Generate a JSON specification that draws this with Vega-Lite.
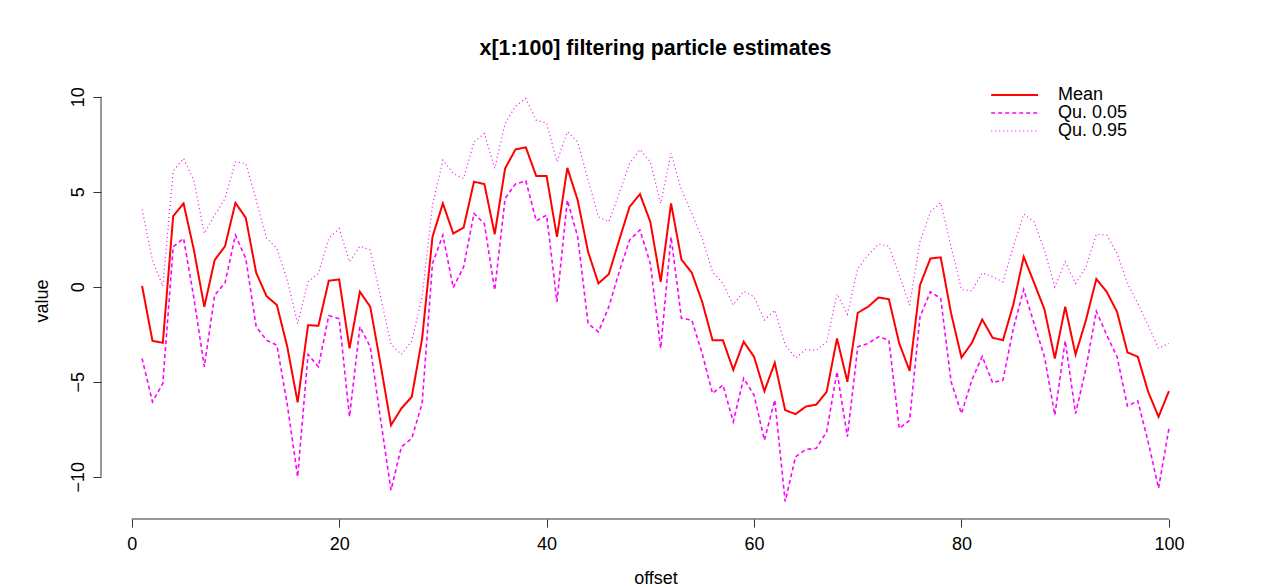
{
"$schema": "https://vega.github.io/schema/vega-lite/v6.json",
"width": 1109, "height": 437,
"autosize": "none",
"padding": {"left": 101, "top": 82, "right": 60, "bottom": 66},
"background": "white",
"config": {"view": {"stroke": null}, "font": "Liberation Sans"},
"title": {"text": "x[1:100] filtering particle estimates", "fontSize": 21.4, "fontWeight": "bold", "font": "Liberation Sans", "color": "#000", "anchor": "middle", "frame": "group", "baseline": "alphabetic", "offset": 6},
"layer": [
{
"data": {"values": [
{"offset":1,"m":0.05,"lo":-3.77,"hi":4.07},
{"offset":2,"m":-2.84,"lo":-6.05,"hi":1.40},
{"offset":3,"m":-2.95,"lo":-5.09,"hi":0.04},
{"offset":4,"m":3.72,"lo":2.11,"hi":6.09},
{"offset":5,"m":4.39,"lo":2.55,"hi":6.76},
{"offset":6,"m":1.93,"lo":-0.6,"hi":5.58},
{"offset":7,"m":-1.05,"lo":-4.21,"hi":2.81},
{"offset":8,"m":1.41,"lo":-0.44,"hi":3.77},
{"offset":9,"m":2.14,"lo":0.21,"hi":4.65},
{"offset":10,"m":4.42,"lo":2.72,"hi":6.58},
{"offset":11,"m":3.63,"lo":1.49,"hi":6.49},
{"offset":12,"m":0.74,"lo":-2.10,"hi":4.56},
{"offset":13,"m":-0.49,"lo":-2.81,"hi":2.55},
{"offset":14,"m":-0.96,"lo":-3.07,"hi":2.02},
{"offset":15,"m":-3.16,"lo":-6.2,"hi":0.35},
{"offset":16,"m":-6.08,"lo":-10.0,"hi":-1.93},
{"offset":17,"m":-2.02,"lo":-3.56,"hi":0.26},
{"offset":18,"m":-2.05,"lo":-4.21,"hi":0.70},
{"offset":19,"m":0.32,"lo":-1.51,"hi":2.55},
{"offset":20,"m":0.39,"lo":-1.68,"hi":3.07},
{"offset":21,"m":-3.24,"lo":-6.84,"hi":1.32},
{"offset":22,"m":-0.26,"lo":-2.10,"hi":2.14},
{"offset":23,"m":-1.05,"lo":-3.16,"hi":1.93},
{"offset":24,"m":-4.1,"lo":-7.0,"hi":-0.53},
{"offset":25,"m":-7.28,"lo":-10.7,"hi":-3.04},
{"offset":26,"m":-6.40,"lo":-8.42,"hi":-3.56},
{"offset":27,"m":-5.79,"lo":-7.98,"hi":-2.86},
{"offset":28,"m":-2.72,"lo":-6.14,"hi":-0.53},
{"offset":29,"m":2.63,"lo":1.23,"hi":4.30},
{"offset":30,"m":4.39,"lo":2.72,"hi":6.67},
{"offset":31,"m":2.81,"lo":-0.04,"hi":5.97},
{"offset":32,"m":3.12,"lo":1.05,"hi":5.70},
{"offset":33,"m":5.53,"lo":3.86,"hi":7.63},
{"offset":34,"m":5.41,"lo":3.33,"hi":8.07},
{"offset":35,"m":2.77,"lo":-0.17,"hi":6.23},
{"offset":36,"m":6.23,"lo":4.65,"hi":8.60},
{"offset":37,"m":7.23,"lo":5.41,"hi":9.51},
{"offset":38,"m":7.34,"lo":5.58,"hi":9.91},
{"offset":39,"m":5.83,"lo":3.47,"hi":8.77},
{"offset":40,"m":5.83,"lo":3.77,"hi":8.63},
{"offset":41,"m":2.63,"lo":-0.79,"hi":6.58},
{"offset":42,"m":6.26,"lo":4.56,"hi":8.16},
{"offset":43,"m":4.56,"lo":2.63,"hi":7.63},
{"offset":44,"m":1.84,"lo":-1.93,"hi":5.62},
{"offset":45,"m":0.18,"lo":-2.37,"hi":3.68},
{"offset":46,"m":0.67,"lo":-1.05,"hi":3.42},
{"offset":47,"m":2.46,"lo":0.79,"hi":4.92},
{"offset":48,"m":4.21,"lo":2.46,"hi":6.49},
{"offset":49,"m":4.88,"lo":2.99,"hi":7.23},
{"offset":50,"m":3.42,"lo":1.23,"hi":6.58},
{"offset":51,"m":0.26,"lo":-3.24,"hi":4.39},
{"offset":52,"m":4.39,"lo":2.63,"hi":7.02},
{"offset":53,"m":1.44,"lo":-1.66,"hi":5.09},
{"offset":54,"m":0.74,"lo":-1.75,"hi":3.86},
{"offset":55,"m":-0.79,"lo":-3.51,"hi":2.55},
{"offset":56,"m":-2.81,"lo":-5.61,"hi":0.79},
{"offset":57,"m":-2.81,"lo":-5.17,"hi":0.18},
{"offset":58,"m":-4.37,"lo":-7.10,"hi":-0.96},
{"offset":59,"m":-2.89,"lo":-4.81,"hi":-0.23},
{"offset":60,"m":-3.68,"lo":-5.70,"hi":-0.53},
{"offset":61,"m":-5.49,"lo":-8.07,"hi":-1.75},
{"offset":62,"m":-4.00,"lo":-5.96,"hi":-1.23},
{"offset":63,"m":-6.49,"lo":-11.3,"hi":-3.04},
{"offset":64,"m":-6.70,"lo":-8.95,"hi":-3.74},
{"offset":65,"m":-6.30,"lo":-8.56,"hi":-3.30},
{"offset":66,"m":-6.20,"lo":-8.50,"hi":-3.35},
{"offset":67,"m":-5.53,"lo":-7.63,"hi":-2.89},
{"offset":68,"m":-2.72,"lo":-4.47,"hi":-0.38},
{"offset":69,"m":-5.00,"lo":-7.89,"hi":-1.44},
{"offset":70,"m":-1.37,"lo":-3.16,"hi":0.97},
{"offset":71,"m":-1.05,"lo":-2.98,"hi":1.67},
{"offset":72,"m":-0.56,"lo":-2.63,"hi":2.25},
{"offset":73,"m":-0.65,"lo":-2.81,"hi":2.14},
{"offset":74,"m":-2.98,"lo":-7.46,"hi":0.62},
{"offset":75,"m":-4.42,"lo":-7.02,"hi":-0.96},
{"offset":76,"m":0.09,"lo":-1.58,"hi":2.37},
{"offset":77,"m":1.49,"lo":-0.26,"hi":3.95},
{"offset":78,"m":1.55,"lo":-0.61,"hi":4.42},
{"offset":79,"m":-1.40,"lo":-5.00,"hi":2.11},
{"offset":80,"m":-3.72,"lo":-6.67,"hi":-0.14},
{"offset":81,"m":-2.95,"lo":-4.91,"hi":-0.21},
{"offset":82,"m":-1.72,"lo":-3.66,"hi":0.74},
{"offset":83,"m":-2.68,"lo":-5.05,"hi":0.53},
{"offset":84,"m":-2.81,"lo":-4.91,"hi":0.26},
{"offset":85,"m":-0.93,"lo":-2.19,"hi":2.11},
{"offset":86,"m":1.58,"lo":-0.14,"hi":3.83},
{"offset":87,"m":0.21,"lo":-1.93,"hi":3.42},
{"offset":88,"m":-1.19,"lo":-3.68,"hi":1.93},
{"offset":89,"m":-3.77,"lo":-6.75,"hi":0.00},
{"offset":90,"m":-1.05,"lo":-2.84,"hi":1.32},
{"offset":91,"m":-3.56,"lo":-6.67,"hi":0.18},
{"offset":92,"m":-1.75,"lo":-4.30,"hi":1.05},
{"offset":93,"m":0.41,"lo":-1.28,"hi":2.77},
{"offset":94,"m":-0.26,"lo":-2.54,"hi":2.72},
{"offset":95,"m":-1.32,"lo":-3.68,"hi":1.76},
{"offset":96,"m":-3.45,"lo":-6.28,"hi":0.18},
{"offset":97,"m":-3.68,"lo":-6.00,"hi":-0.87},
{"offset":98,"m":-5.53,"lo":-8.16,"hi":-2.02},
{"offset":99,"m":-6.84,"lo":-10.6,"hi":-3.24},
{"offset":100,"m":-5.49,"lo":-7.46,"hi":-2.98}
]},
"transform": [{"fold": ["m", "lo", "hi"], "as": ["key", "value"]}],
"mark": {"type": "line", "clip": false},
"encoding": {
"x": {"field": "offset", "type": "quantitative",
 "scale": {"domain": [-2.96, 103.96], "nice": false, "zero": false},
 "axis": {"values": [0, 20, 40, 60, 80, 100], "domain": false, "grid": false, "tickSize": 8, "tickColor": "#333", "labelFontSize": 18, "labelFont": "Liberation Sans", "labelColor": "#000", "labelPadding": 8, "labelFlush": false, "labelOverlap": false, "title": "offset", "titleFont": "Liberation Sans", "titleFontSize": 18, "titleFontWeight": "normal", "titleColor": "#000", "titleBaseline": "alphabetic", "titlePadding": 30}},
"y": {"field": "value", "type": "quantitative",
 "scale": {"domain": [-12.22, 10.78], "nice": false, "zero": false},
 "axis": {"values": [-10, -5, 0, 5, 10], "domain": false, "grid": false, "tickSize": 8, "tickColor": "#333", "labelAngle": -90, "labelAlign": "center", "labelBaseline": "alphabetic", "labelPadding": 10, "labelFontSize": 18, "labelFont": "Liberation Sans", "labelColor": "#000", "labelFlush": false, "labelOverlap": false, "title": "value", "titleFont": "Liberation Sans", "titleFontSize": 18, "titleFontWeight": "normal", "titleColor": "#000", "titlePadding": 18}},
"color": {"field": "key", "type": "nominal",
 "scale": {"domain": ["m", "lo", "hi"], "range": ["#FF0000", "#FF00FF", "#FF00FF"]},
 "legend": {"title": null, "orient": "none", "legendX": 887.7, "legendY": 4, "padding": 0, "symbolType": "M-1,0H6.2", "symbolSize": 169, "symbolFillColor": "transparent", "labelOffset": 51.3, "rowPadding": -10, "labelFontSize": 18, "labelFont": "Liberation Sans", "labelColor": "#000", "labelExpr": "datum.label == 'm' ? 'Mean' : datum.label == 'lo' ? 'Qu. 0.05' : 'Qu. 0.95'"}},
"strokeDash": {"field": "key", "type": "nominal",
 "scale": {"domain": ["m", "lo", "hi"], "range": [[1, 0], [4, 3], [1, 3]]}},
"strokeWidth": {"field": "key", "type": "nominal",
 "scale": {"domain": ["m", "lo", "hi"], "range": [2, 1.2, 1.2]}}
}
},
{
"data": {"values": [{}]},
"mark": {"type": "rule", "color": "#333", "strokeWidth": 1},
"encoding": {"x": {"datum": -2.96}, "y": {"datum": -10}, "y2": {"datum": 10}}
},
{
"data": {"values": [{}]},
"mark": {"type": "rule", "color": "#333", "strokeWidth": 1},
"encoding": {"x": {"datum": 0}, "x2": {"datum": 100}, "y": {"datum": -12.22}}
}
]
}
